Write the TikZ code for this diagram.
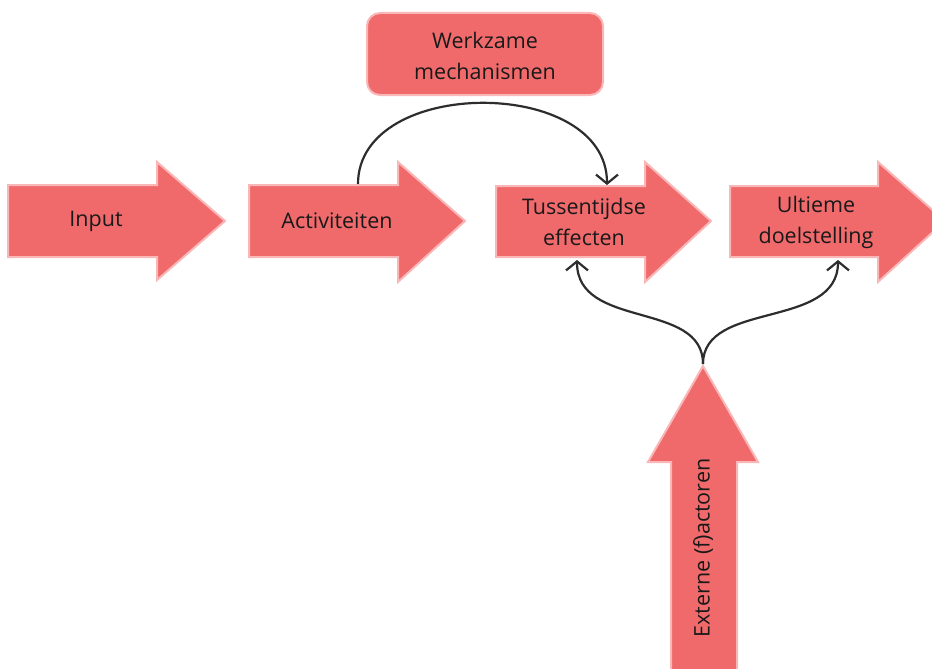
\documentclass[tikz,border=0pt]{standalone}
\usepackage{fontspec}
\setmainfont{Open Sans}
\usetikzlibrary{arrows.meta}
\definecolor{arrowfill}{RGB}{240,106,108}
\definecolor{arrowedge}{RGB}{249,183,183}
\definecolor{linkcol}{RGB}{45,45,45}
\tikzset{
  bigarrow/.style={fill=arrowfill, draw=arrowedge, line width=2pt, line join=miter},
  label/.style={font=\fontsize{21.5}{31}\selectfont, text=black!90, align=center, inner sep=0pt},
  link/.style={draw=linkcol, line width=2.2pt, -{Straight Barb[length=9pt,width=22pt,line width=2.2pt]}},
  plain/.style={draw=linkcol, line width=2pt}
}
\begin{document}
\begin{tikzpicture}[x=1pt,y=-1pt]
\useasboundingbox (0,0) rectangle (932,669);
\clip (0,0) rectangle (932,669);
% horizontal block arrows
\draw[bigarrow] (8,185) -- (157,185) -- (157,162) -- (225,221) -- (157,280) -- (157,257) -- (8,257) -- cycle;
\draw[bigarrow] (249,185) -- (398,185) -- (398,162) -- (465,221) -- (398,282) -- (398,257) -- (249,257) -- cycle;
\draw[bigarrow] (496,186) -- (645,186) -- (645,162) -- (711,221) -- (645,282) -- (645,257) -- (496,257) -- cycle;
\draw[bigarrow] (730,186) -- (878,186) -- (878,162) -- (945,221) -- (878,282) -- (878,257) -- (730,257) -- cycle;
% vertical block arrow
\draw[bigarrow] (671,680) -- (671,462) -- (648,462) -- (703,366) -- (758,462) -- (737,462) -- (737,680) -- cycle;
% box
\draw[bigarrow, rounded corners=13pt] (367,13) rectangle (603,95);
% labels
\node[label] (input) at (96,221) {Input};
\node[label] (act) at (337,221) {Activiteiten};
\node[label] (tus) at (584,222) {Tussentijdse\\effecten};
\node[label] (ult) at (816,222) {Ultieme\\doelstelling};
\node[label] (werk) at (485,56) {Werkzame\\mechanismen};
\node[label, rotate=90] (ext) at (703,548) {Externe (f)actoren};
% connector endpoints
\coordinate (actTop) at (358,184);
\coordinate (tusTop) at (607,185);
\coordinate (tusBot) at (577,260);
\coordinate (ultBot) at (838,260);
\coordinate (split) at (703,364);
% connectors
\draw[link] (actTop) .. controls (358,76) and (607,76) .. (tusTop);
\draw[link] (split) .. controls (703,300) and (577,330) .. (tusBot);
\draw[link] (split) .. controls (703,300) and (838,330) .. (ultBot);
\end{tikzpicture}
\end{document}
